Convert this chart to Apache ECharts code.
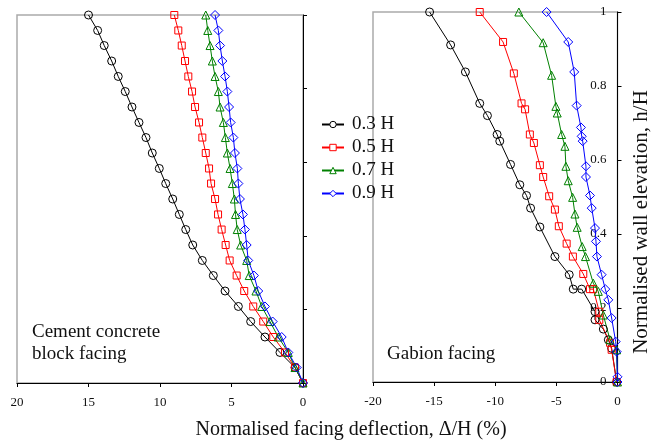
<!DOCTYPE html>
<html>
<head>
<meta charset="utf-8">
<script src="https://cdn.jsdelivr.net/npm/echarts@6/dist/echarts.min.js"></script>
<style>
html,body{margin:0;padding:0;background:#fff;}
#chart{width:651px;height:441px;}
</style>
</head>
<body>
<div id="chart"></div>
<script>
// ---- Data ----
const seriesNames = ['0.3 H', '0.5 H', '0.7 H', '0.9 H'];
const seriesColors = ['#000000', '#ff0000', '#008000', '#0000ff'];
const seriesSymbols = ['circle', 'rect', 'triangle', 'diamond'];

// Cement concrete block facing: normalised elevation h/H and deflection (%)
const ccElev = [1, 0.958, 0.917, 0.875, 0.833, 0.792, 0.75, 0.708, 0.667, 0.625, 0.583, 0.542, 0.5,
  0.458, 0.417, 0.375, 0.333, 0.292, 0.25, 0.208, 0.167, 0.125, 0.083, 0.042, 0];
const cc03 = [15.0, 14.36, 13.9, 13.38, 12.92, 12.43, 11.96, 11.47, 10.98, 10.54, 10.05, 9.6, 9.11,
  8.65, 8.2, 7.71, 7.04, 6.27, 5.45, 4.52, 3.66, 2.66, 1.61, 0.56, 0];
const cc05 = [9.0, 8.72, 8.48, 8.25, 8.02, 7.76, 7.55, 7.27, 7.04, 6.8, 6.57, 6.43, 6.15,
  5.94, 5.69, 5.41, 5.13, 4.64, 4.11, 3.48, 2.78, 2.08, 1.26, 0.56, 0];
const cc07 = [6.8, 6.66, 6.5, 6.34, 6.15, 5.92, 5.8, 5.57, 5.43, 5.29, 5.1, 4.94, 4.8,
  4.72, 4.6, 4.36, 3.94, 3.76, 3.29, 2.89, 2.31, 1.73, 1.03, 0.56, 0];
const cc09 = [6.15, 5.92, 5.8, 5.64, 5.45, 5.29, 5.17, 5.06, 4.87, 4.76, 4.59, 4.52, 4.41,
  4.2, 4.06, 3.94, 3.83, 3.43, 3.13, 2.66, 2.12, 1.49, 1.03, 0.44, 0];

// Gabion facing: deflection (%) and elevation h/H
const gab03X = [-15.37, -13.65, -12.44, -11.27, -10.64, -9.85, -9.63, -8.75, -7.99, -7.44, -7.11, -6.35,
  -5.12, -3.95, -3.62, -2.93, -1.84, -1.84, -1.16, -0.75, -0.48, -0.07];
const gab03Y = [1.0, 0.911, 0.838, 0.753, 0.72, 0.669, 0.651, 0.588, 0.533, 0.504, 0.47, 0.419,
  0.339, 0.29, 0.251, 0.251, 0.19, 0.168, 0.143, 0.114, 0.091, 0];
const gab05X = [-11.27, -9.36, -8.48, -7.85, -7.56, -7.17, -6.84, -6.35, -6.08, -5.59, -5.12, -4.8,
  -4.16, -3.65, -2.8, -2.25, -1.98, -1.49, -1.49, -0.61, -0.48, -0.07];
const gab05Y = [1.0, 0.919, 0.834, 0.753, 0.737, 0.669, 0.646, 0.586, 0.554, 0.502, 0.466, 0.421,
  0.374, 0.339, 0.292, 0.251, 0.251, 0.19, 0.168, 0.106, 0.087, 0];
const gab07X = [-8.07, -6.08, -5.39, -5.04, -4.93, -4.57, -4.3, -4.22, -4.03, -3.67, -3.48, -3.3,
  -2.89, -2.62, -1.98, -1.57, -1.16, -0.61, -0.07, 0];
const gab07Y = [1.0, 0.917, 0.829, 0.745, 0.727, 0.669, 0.637, 0.583, 0.544, 0.499, 0.454, 0.418,
  0.366, 0.339, 0.267, 0.245, 0.181, 0.114, 0.087, 0];
const gab09X = [-5.8, -4.03, -3.54, -3.34, -2.99, -2.93, -2.85, -2.58, -2.58, -2.25, -2.11, -1.84,
  -1.76, -1.68, -1.3, -1.0, -0.75, -0.48, -0.15, -0.07, 0, 0];
const gab09Y = [1.0, 0.919, 0.838, 0.747, 0.688, 0.664, 0.651, 0.583, 0.554, 0.504, 0.47, 0.416,
  0.38, 0.339, 0.29, 0.251, 0.222, 0.173, 0.109, 0.082, 0.014, 0];

const xTitle = 'Normalised facing deflection, \u0394/H (%)';
const yTitle = 'Normalised wall elevation, h/H';
const leftLabel = ['Cement concrete', 'block facing'];
const rightLabel = 'Gabion facing';

// ---- Chart ----
const FONT = "'Liberation Serif', 'Times New Roman', serif";
const chart = echarts.init(document.getElementById('chart'), null, {renderer: 'canvas'});

const ccData = [cc03, cc05, cc07, cc09];
const gabX = [gab03X, gab05X, gab07X, gab09X];
const gabY = [gab03Y, gab05Y, gab07Y, gab09Y];
const symSize = [8, 7, 8, 9];

function mkSeries(i, data, axisIdx) {
  return {
    name: seriesNames[i],
    type: 'line',
    xAxisIndex: axisIdx,
    yAxisIndex: axisIdx,
    data: data,
    symbol: seriesSymbols[i],
    symbolSize: symSize[i],
    showAllSymbol: true,
    animation: false,
    lineStyle: {color: seriesColors[i], width: 1},
    itemStyle: {color: 'rgba(255,255,255,0)', borderColor: seriesColors[i], borderWidth: 1},
    emphasis: {disabled: true}
  };
}

const series = [];
for (let i = 0; i < 4; i++) {
  series.push(mkSeries(i, ccData[i].map((x, k) => [x, ccElev[k]]), 0));
}
for (let i = 0; i < 4; i++) {
  series.push(mkSeries(i, gabX[i].map((x, k) => [x, gabY[i][k]]), 1));
}

const axisLineBlack = {show: true, onZero: false, lineStyle: {color: '#000', width: 1}};
const tickLabel = {fontFamily: FONT, fontSize: 13, color: '#111'};

chart.setOption({
  backgroundColor: '#fff',
  animation: false,
  grid: [
    {left: 17, right: 348, top: 15, bottom: 58, show: true, borderColor: '#aaaaaa', borderWidth: 1.5, backgroundColor: 'transparent'},
    {left: 373, right: 33.5, top: 12, bottom: 59, show: true, borderColor: '#aaaaaa', borderWidth: 1.5, backgroundColor: 'transparent'}
  ],
  xAxis: [
    {type: 'value', gridIndex: 0, inverse: true, min: 0, max: 20, interval: 5,
      axisLine: axisLineBlack, axisTick: {show: true, length: 4, lineStyle: {color: '#000'}},
      splitLine: {show: false}, axisLabel: Object.assign({margin: 13}, tickLabel)},
    {type: 'value', gridIndex: 1, min: -20, max: 0, interval: 5,
      axisLine: axisLineBlack, axisTick: {show: true, length: 4, lineStyle: {color: '#000'}},
      splitLine: {show: false}, axisLabel: Object.assign({margin: 13}, tickLabel)}
  ],
  yAxis: [
    {type: 'value', gridIndex: 0, position: 'right', min: 0, max: 1, interval: 0.2,
      axisLine: axisLineBlack, axisTick: {show: true, length: 4, lineStyle: {color: '#000'}},
      splitLine: {show: false}, axisLabel: {show: false}},
    {type: 'value', gridIndex: 1, position: 'right', min: 0, max: 1, interval: 0.2,
      axisLine: axisLineBlack, axisTick: {show: true, inside: false, length: 4, lineStyle: {color: '#000'}},
      splitLine: {show: false}, axisLabel: Object.assign({inside: true, margin: 11}, tickLabel)}
  ],
  legend: {
    data: seriesNames,
    orient: 'vertical',
    left: 321,
    top: 115,
    padding: 0,
    itemWidth: 22,
    itemHeight: 8,
    itemGap: 4,
    itemStyle: {color: '#ffffff', borderWidth: 1},
    textStyle: {fontFamily: FONT, fontSize: 19, color: '#111', padding: [0, 0, 0, 3]},
    selectedMode: false
  },
  graphic: [
    {type: 'text', x: 32, y: 332, silent: true,
      style: {text: leftLabel[0], fontFamily: FONT, fontSize: 19, fill: '#111', textAlign: 'left', textVerticalAlign: 'middle', align: 'left', verticalAlign: 'middle'}},
    {type: 'text', x: 32, y: 354, silent: true,
      style: {text: leftLabel[1], fontFamily: FONT, fontSize: 19, fill: '#111', textAlign: 'left', textVerticalAlign: 'middle', align: 'left', verticalAlign: 'middle'}},
    {type: 'text', x: 387, y: 354, silent: true,
      style: {text: rightLabel, fontFamily: FONT, fontSize: 19, fill: '#111', textAlign: 'left', textVerticalAlign: 'middle', align: 'left', verticalAlign: 'middle'}},
    {type: 'text', x: 351, y: 430, silent: true,
      style: {text: xTitle, fontFamily: FONT, fontSize: 20, fill: '#111', textAlign: 'center', textVerticalAlign: 'middle', align: 'center', verticalAlign: 'middle'}},
    {type: 'text', x: 641, y: 222, rotation: Math.PI / 2, silent: true,
      style: {text: yTitle, fontFamily: FONT, fontSize: 21, fill: '#111', textAlign: 'center', textVerticalAlign: 'middle', align: 'center', verticalAlign: 'middle'}}
  ],
  series: series
});
</script>
</body>
</html>
